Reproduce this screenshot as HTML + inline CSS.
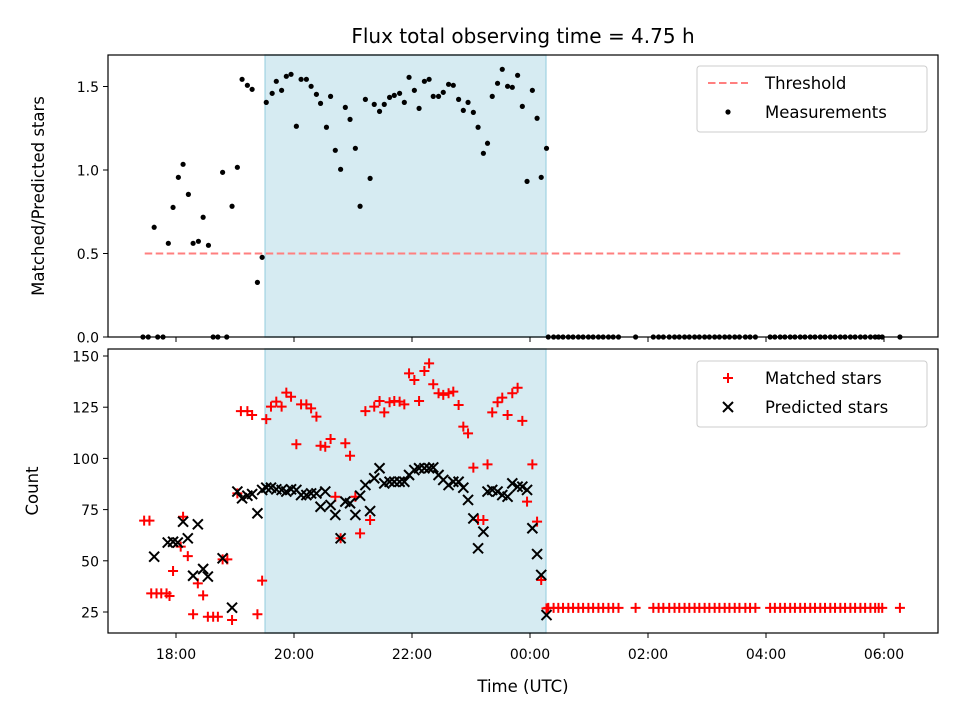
<!DOCTYPE html>
<html><head><meta charset="utf-8">
<style>
html,body{margin:0;padding:0;background:#fff;}
svg{display:block;font-family:"DejaVu Sans","Liberation Sans",sans-serif;}
</style></head>
<body>
<svg id="chart" width="960" height="720" viewBox="0 0 960 720" xmlns="http://www.w3.org/2000/svg">
<text x="523" y="43" font-size="20" text-anchor="middle">Flux total observing time = 4.75 h</text>
<text transform="translate(44,196) rotate(-90)" font-size="16.5" text-anchor="middle">Matched/Predicted stars</text>
<text transform="translate(38,491) rotate(-90)" font-size="16.5" text-anchor="middle">Count</text>
<text x="523" y="692" font-size="16.5" text-anchor="middle">Time (UTC)</text>
<g id="topPanel"></g>
<g id="botPanel"></g>
</svg>
<script>
const obsStart = 19.51, obsEnd = 24.27;
const threshold = 0.5, thrStart = 17.47, thrEnd = 30.29;
const xTickLabels = ["18:00","20:00","22:00","00:00","02:00","04:00","06:00"];
const xTickHours = [18,20,22,24,26,28,30];
const topYTicks = [0,0.5,1.0,1.5];
const topYTickLabels = ["0.0","0.5","1.0","1.5"];
const botYTicks = [25,50,75,100,125,150];
const tailTimes = [24.31,24.40,24.48,24.56,24.65,24.73,24.82,24.90,24.99,25.07,25.16,25.24,25.33,25.41,25.50,25.79,26.09,26.18,26.26,26.36,26.45,26.53,26.62,26.70,26.79,26.87,26.96,27.04,27.13,27.21,27.30,27.38,27.47,27.55,27.65,27.73,27.82,28.07,28.15,28.24,28.32,28.41,28.49,28.58,28.66,28.75,28.83,28.92,29.00,29.09,29.17,29.26,29.34,29.43,29.51,29.60,29.68,29.77,29.85,29.91,29.97,30.27];
const ratioTimes = [17.44,17.53,17.63,17.69,17.78,17.87,17.95,18.04,18.12,18.21,18.29,18.38,18.46,18.55,18.63,18.71,18.79,18.86,18.95,19.04,19.12,19.21,19.29,19.38,19.46,19.53,19.63,19.70,19.79,19.87,19.95,20.04,20.12,20.21,20.29,20.38,20.45,20.55,20.62,20.70,20.79,20.87,20.95,21.04,21.12,21.21,21.29,21.36,21.45,21.53,21.62,21.70,21.79,21.87,21.95,22.04,22.12,22.21,22.29,22.36,22.45,22.53,22.62,22.70,22.79,22.87,22.95,23.04,23.12,23.21,23.28,23.36,23.45,23.53,23.62,23.70,23.79,23.87,23.95,24.04,24.12,24.19,24.28];
const ratioValues = [0,0,0.657,0,0,0.561,0.776,0.956,1.034,0.854,0.561,0.573,0.717,0.549,0,0,0.986,0,0.783,1.016,1.543,1.507,1.483,0.327,0.477,1.405,1.459,1.531,1.477,1.561,1.573,1.262,1.543,1.543,1.501,1.453,1.399,1.256,1.441,1.118,1.004,1.375,1.303,1.130,0.783,1.423,0.950,1.393,1.351,1.393,1.435,1.447,1.459,1.405,1.555,1.477,1.369,1.531,1.543,1.441,1.441,1.465,1.513,1.507,1.423,1.357,1.405,1.345,1.256,1.100,1.160,1.441,1.519,1.603,1.501,1.495,1.567,1.381,0.932,1.477,1.310,0.956,1.130];
const matchedTimes = [17.46,17.55,17.58,17.67,17.75,17.84,17.89,17.95,18.08,18.12,18.20,18.29,18.37,18.46,18.54,18.63,18.71,18.79,18.87,18.95,19.04,19.10,19.21,19.29,19.38,19.46,19.53,19.61,19.70,19.79,19.87,19.95,20.04,20.12,20.21,20.29,20.38,20.45,20.53,20.62,20.70,20.79,20.87,20.95,21.04,21.12,21.21,21.29,21.36,21.45,21.53,21.62,21.70,21.79,21.87,21.95,22.04,22.12,22.21,22.29,22.36,22.45,22.53,22.62,22.70,22.79,22.87,22.95,23.04,23.12,23.21,23.28,23.36,23.45,23.53,23.62,23.70,23.79,23.87,23.95,24.04,24.12,24.19,24.28];
const matchedValues = [69.6,69.6,34.1,34.1,34.1,34.1,32.8,45.0,56.9,71.5,52.3,23.9,39.0,33.1,22.7,22.7,22.7,50.7,50.7,21.1,82.9,123.1,123.1,121.2,23.9,40.3,119.2,125.3,127.7,125.3,132.1,130.1,106.9,126.4,126.4,124.4,120.4,106.2,105.7,109.5,81.3,61.0,107.4,101.3,81.3,63.4,123.1,69.9,125.3,128.0,122.5,127.4,128.0,127.7,126.4,141.5,138.3,128.0,142.7,146.4,136.2,131.8,131.0,131.8,132.6,126.1,115.5,112.2,95.5,69.9,69.9,97.1,122.5,127.4,129.7,121.2,131.8,134.5,118.3,78.9,97.1,69.1,40.6,26.8];
const tailMatchedValue = 27;
const predictedTimes = [17.63,17.86,17.95,18.03,18.12,18.20,18.29,18.37,18.46,18.54,18.79,18.95,19.04,19.12,19.21,19.29,19.38,19.46,19.53,19.61,19.70,19.79,19.87,19.95,20.04,20.12,20.21,20.29,20.38,20.45,20.53,20.62,20.70,20.79,20.87,20.95,21.04,21.12,21.21,21.29,21.36,21.45,21.53,21.62,21.70,21.79,21.87,21.95,22.04,22.12,22.21,22.29,22.36,22.45,22.53,22.62,22.70,22.79,22.87,22.95,23.04,23.12,23.21,23.28,23.36,23.45,23.53,23.62,23.70,23.79,23.87,23.95,24.04,24.12,24.19,24.28];
const predictedValues = [52.0,58.9,59.3,58.9,69.1,61.0,42.7,67.8,46.0,42.3,51.2,27.1,83.8,80.5,81.8,82.6,73.2,84.6,85.7,85.7,84.9,84.6,83.8,84.9,84.6,82.1,82.1,82.9,82.9,76.4,83.8,77.2,72.4,61.0,78.9,78.1,72.4,81.8,87.0,74.3,90.3,95.2,87.8,88.6,88.6,88.6,88.6,91.9,94.3,95.2,95.2,95.2,95.6,91.9,89.5,87.0,88.6,88.6,85.7,79.7,70.7,56.1,64.2,83.8,84.6,83.8,82.1,81.3,87.8,86.2,86.2,84.6,65.9,53.3,43.1,23.5];

const NS = "http://www.w3.org/2000/svg";
const L = 108, R = 938;
const X = h => 176 + (h - 18) * 59;
const TOP_T = 55, TOP_B = 337;
const Yt = v => 337 - v * 167;
const BOT_T = 349, BOT_B = 633;
const Yb = v => 612 - (v - 25) * 2.048;
function mk(parent, tag, attrs){const e=document.createElementNS(NS,tag);for(const k in attrs)e.setAttribute(k,attrs[k]);parent.appendChild(e);return e;}
const gTop = document.getElementById('topPanel'), gBot = document.getElementById('botPanel');

function panel(g, t, b, name){
  const band = mk(g,'rect',{x:X(obsStart),y:t,width:X(obsEnd)-X(obsStart),height:b-t,fill:'#add8e6','fill-opacity':0.5,stroke:'#add8e6','stroke-width':1.5});
  
  
}
function frame(g,t,b,name){
  const f = mk(g,'rect',{x:L,y:t,width:R-L,height:b-t,fill:'none',stroke:'#000','stroke-width':1.2});
  
  
  xTickHours.forEach((h,i)=>{
    const tk = mk(g,'line',{x1:X(h),x2:X(h),y1:b,y2:b+5,stroke:'#000','stroke-width':1});
    
    
  });
}
panel(gTop,TOP_T,TOP_B,'top');
panel(gBot,BOT_T,BOT_B,'bottom');

const thr = mk(gTop,'line',{x1:X(thrStart),x2:X(thrEnd),y1:Yt(threshold),y2:Yt(threshold),stroke:'#ff7f7f','stroke-width':2,'stroke-dasharray':'7.5,3.5'});



const allRT = ratioTimes.concat(tailTimes);
const allRV = ratioValues.concat(tailTimes.map(()=>0));
allRT.forEach((t,i)=>{
  const c = mk(gTop,'circle',{cx:X(t),cy:Yt(allRV[i]),r:2.6,fill:'#000'});
  
  
});

const allMT = matchedTimes.concat(tailTimes);
const allMV = matchedValues.concat(tailTimes.map(()=>tailMatchedValue));
allMT.forEach((t,i)=>{
  const x=X(t), y=Yb(allMV[i]);
  const p = mk(gBot,'path',{d:`M${x-5},${y}H${x+5}M${x},${y-5}V${y+5}`,stroke:'#f00','stroke-width':2,fill:'none'});
  
  
});
predictedTimes.forEach((t,i)=>{
  const x=X(t), y=Yb(predictedValues[i]);
  const p = mk(gBot,'path',{d:`M${x-5},${y-5}L${x+5},${y+5}M${x-5},${y+5}L${x+5},${y-5}`,stroke:'#000','stroke-width':2,fill:'none'});
  
  
});

frame(gTop,TOP_T,TOP_B,'top');
frame(gBot,BOT_T,BOT_B,'bottom');

topYTicks.forEach((v,i)=>{
  const tk = mk(gTop,'line',{x1:L-5,x2:L,y1:Yt(v),y2:Yt(v),stroke:'#000'});
  
  
  const tx = mk(gTop,'text',{x:L-9,y:Yt(v)+5.5,'font-size':14,'text-anchor':'end'});
  tx.textContent = topYTickLabels[i];
  
  
});
botYTicks.forEach(v=>{
  const tk = mk(gBot,'line',{x1:L-5,x2:L,y1:Yb(v),y2:Yb(v),stroke:'#000'});
  
  
  const tx = mk(gBot,'text',{x:L-9,y:Yb(v)+5.5,'font-size':14,'text-anchor':'end'});
  tx.textContent = String(v);
  
  
});
xTickHours.forEach((h,i)=>{
  const tx = mk(gBot,'text',{x:X(h),y:BOT_B+26,'font-size':14,'text-anchor':'middle'});
  tx.textContent = xTickLabels[i];
  
  
});

function legend(g, y0, name, entries){
  const box = mk(g,'rect',{x:697,y:y0,width:230,height:66,rx:3,fill:'#fff','fill-opacity':0.8,stroke:'#ccc'});
  
  
  entries.forEach((e,i)=>{
    const cy = y0+17+i*29;
    e.draw(cy);
    const tx = mk(g,'text',{x:765,y:cy+6,'font-size':16.5});
    tx.textContent = e.label;
    
    
  });
}
legend(gTop,66,'top-legend',[
  {label:'Threshold',draw:cy=>{const l=mk(gTop,'line',{x1:708,x2:748,y1:cy,y2:cy,stroke:'#ff7f7f','stroke-width':2,'stroke-dasharray':'7.5,3.5'});}},
  {label:'Measurements',draw:cy=>{const c=mk(gTop,'circle',{cx:728,cy:cy,r:2.6,fill:'#000'});}}
]);
legend(gBot,361,'bottom-legend',[
  {label:'Matched stars',draw:cy=>{const p=mk(gBot,'path',{d:`M723,${cy}H733M728,${cy-5}V${cy+5}`,stroke:'#f00','stroke-width':2});}},
  {label:'Predicted stars',draw:cy=>{const p=mk(gBot,'path',{d:`M723,${cy-5}L733,${cy+5}M723,${cy+5}L733,${cy-5}`,stroke:'#000','stroke-width':2});}}
]);
</script>
</body></html>
